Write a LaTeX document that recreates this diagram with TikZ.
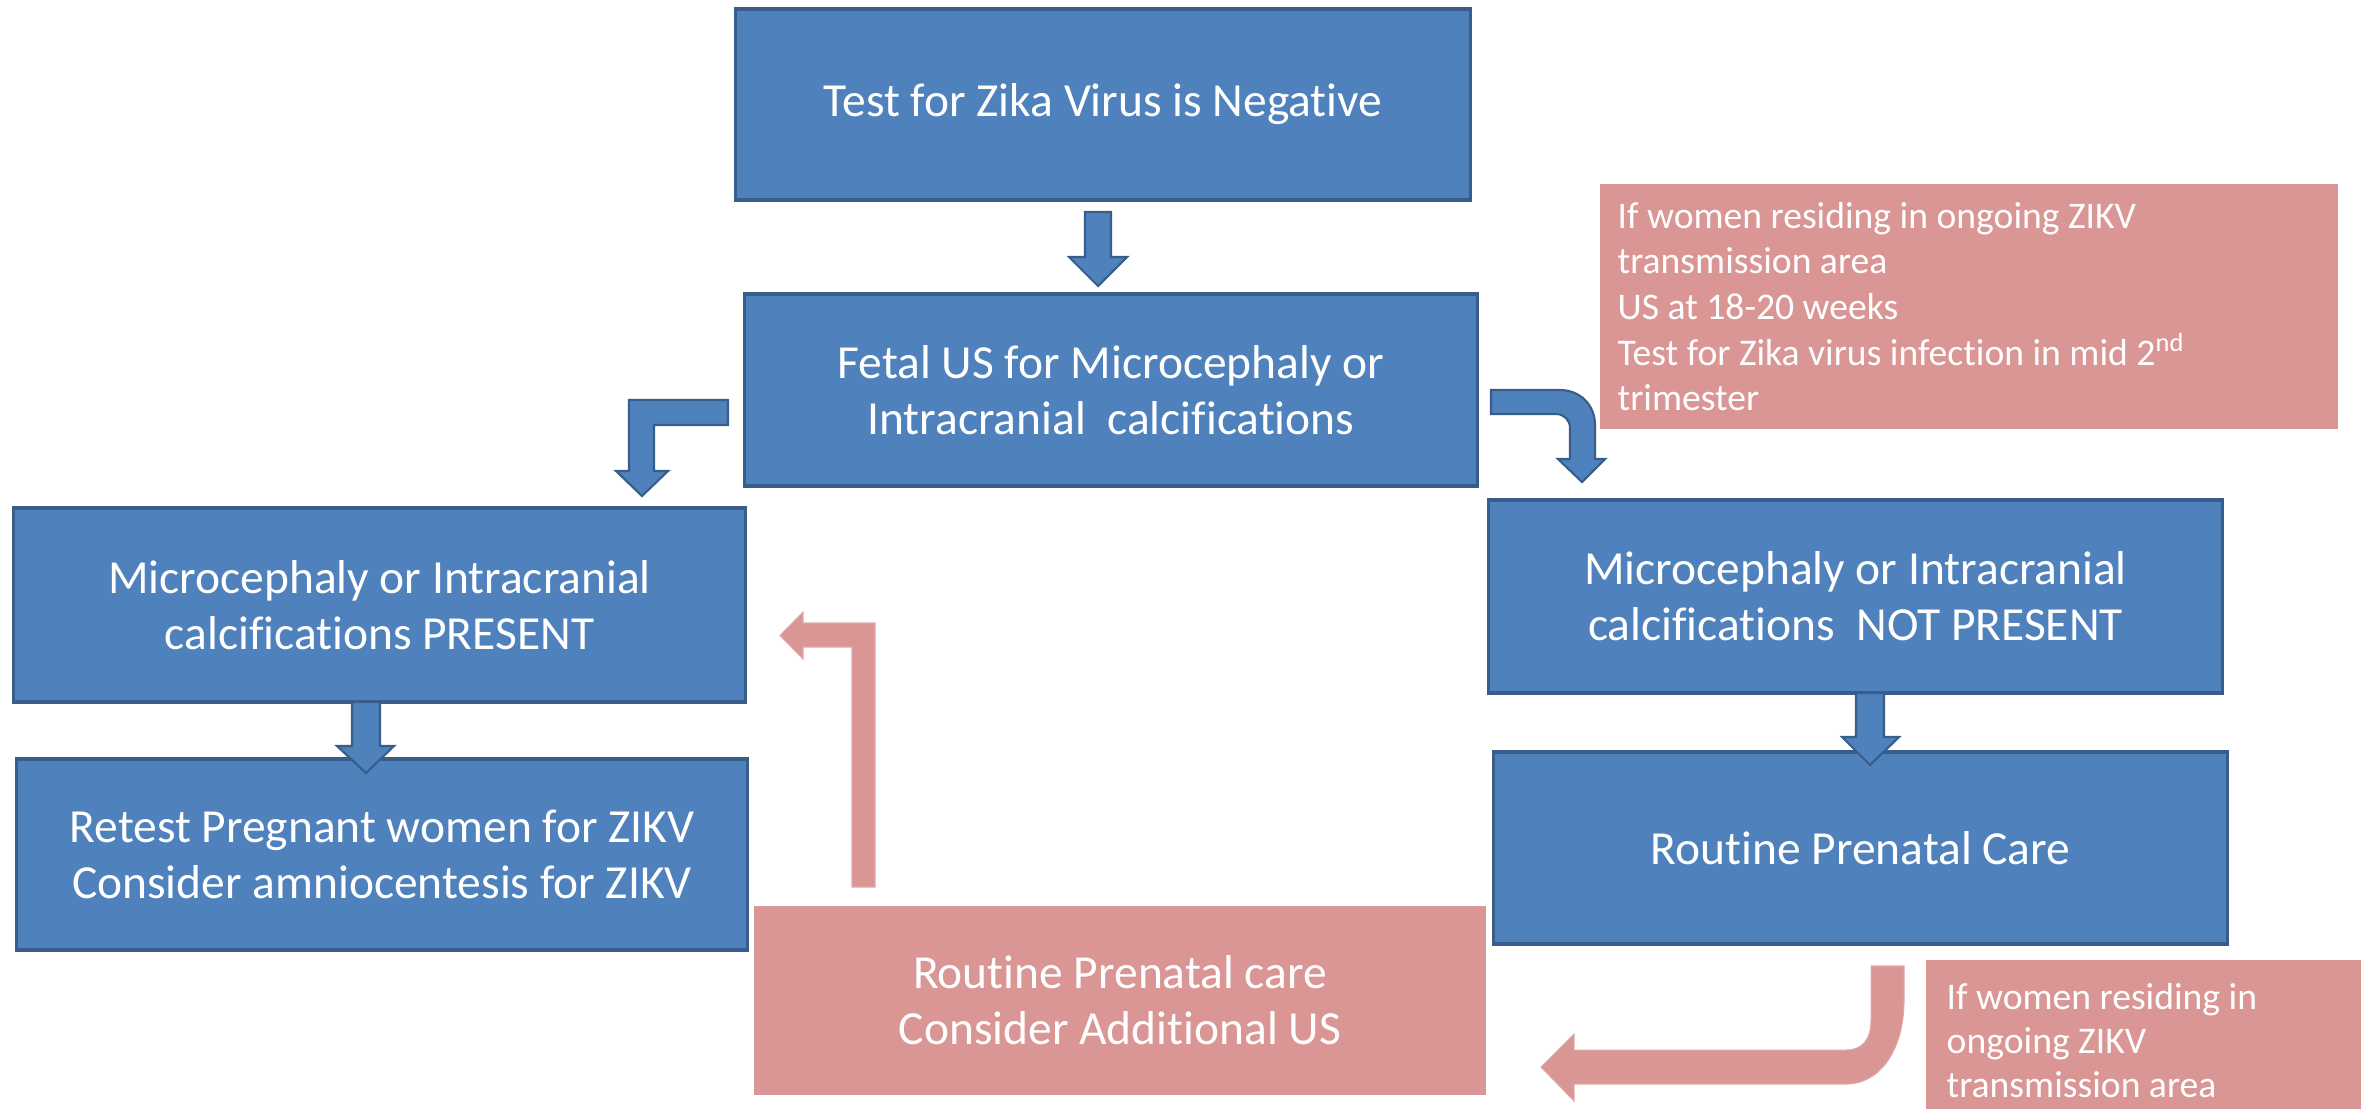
\documentclass[tikz,border=0pt]{standalone}
\usepackage{fontspec}
\setmainfont{Carlito}[Ligatures={NoCommon}]
\definecolor{bluefill}{HTML}{4F81BD}
\definecolor{blueline}{HTML}{385D8A}
\definecolor{pinkfill}{HTML}{D99694}
\definecolor{pinkline}{HTML}{E0A9A8}
\tikzset{
  bluebox/.style={draw=blueline, fill=bluefill, line width=0.9pt, text=white, align=center, inner sep=0pt,
    font=\fontsize{13.5}{15.9}\selectfont},
  pinkbox/.style={fill=pinkfill, draw=none, text=white, align=center, inner sep=0pt,
    font=\fontsize{13.5}{15.9}\selectfont},
  pinktext/.style={text=white, align=left, inner sep=0pt, font=\fontsize{10.7}{13.0}\selectfont},
  bluearrow/.style={draw=blueline, fill=bluefill, line width=0.6pt, line join=miter},
  pinkarrow/.style={draw=pinkline, fill=pinkfill, line width=0.3pt, line join=miter},
}
\begin{document}
\begin{tikzpicture}[x=0.01cm, y=-0.01cm]
\useasboundingbox (0,0) rectangle (2361,1108);
\clip (0,0) rectangle (2361,1108);

% boxes
\node[bluebox, minimum width=7.34cm, minimum height=1.91cm] (top) at (1103,104.5) {Test for Zika Virus is Negative};
\node[bluebox, minimum width=7.32cm, minimum height=1.92cm] (fetal) at (1111,390) {Fetal US for Microcephaly or\\Intracranial\ \ calcifications};
\node[bluebox, minimum width=7.31cm, minimum height=1.94cm] (present) at (379.5,605) {Microcephaly or Intracranial\\calcifications PRESENT};
\node[bluebox, minimum width=7.33cm, minimum height=1.93cm] (notpresent) at (1855.5,596.5) {Microcephaly or Intracranial\\calcifications\ \ NOT PRESENT};
\node[bluebox, minimum width=7.30cm, minimum height=1.91cm] (retest) at (382,854.5) {Retest Pregnant women for ZIKV\\Consider amniocentesis for ZIKV};
\node[bluebox, minimum width=7.33cm, minimum height=1.92cm] (routine) at (1860.5,848) {Routine Prenatal Care};

\node[pinkbox, minimum width=7.38cm, minimum height=2.45cm] (pinkA) at (1969,306.5) {};
\node[pinktext, anchor=west] (pinkAtext) at (1617,306.5) {If women residing in ongoing ZIKV\\transmission area\\US at 18-20 weeks\\Test for Zika virus infection in mid 2\textsuperscript{nd}\\trimester};

\node[pinkbox, minimum width=7.32cm, minimum height=1.89cm] (pinkmid) at (1120,1000.5) {Routine Prenatal care\\Consider Additional US};

\node[pinkbox, minimum width=4.74cm, minimum height=1.90cm] (pinkB) at (2163,1055) {};
\node[pinktext, anchor=west, font=\fontsize{10.7}{12.5}\selectfont] (pinkBtext) at (1946,1041) {If women residing in\\ongoing ZIKV\\transmission area};

% blue block arrows
\draw[bluearrow] (1085,212) -- (1111,212) -- (1111,257) -- (1127,257) -- (1098,286) -- (1069,257) -- (1085,257) -- cycle;
\draw[bluearrow] (728,400) -- (629,400) -- (629,471) -- (616,471) -- (642,496) -- (668,471) -- (654,471) -- (654,425) -- (728,425) -- cycle;
\draw[bluearrow] (1491,390) -- (1560,390) .. controls (1580,390) and (1595,405) .. (1595,425) -- (1595,459) -- (1605,459) -- (1582,482) -- (1558,459) -- (1570,459) -- (1570,428) .. controls (1570,420) and (1564,414) .. (1556,414) -- (1491,414) -- cycle;
\draw[bluearrow] (352,702) -- (380,702) -- (380,746) -- (394,746) -- (366,773) -- (337,746) -- (352,746) -- cycle;
\draw[bluearrow] (1856,693) -- (1884,693) -- (1884,737) -- (1899,737) -- (1870,765) -- (1842,737) -- (1856,737) -- cycle;

% pink block arrows
\draw[pinkarrow] (852,887) -- (875,887) -- (875,623) -- (803,623) -- (803,612) -- (780,635.5) -- (803,659) -- (803,647) -- (852,647) -- cycle;
\draw[pinkarrow] (1871,966) -- (1904,966) -- (1904,1000) .. controls (1904,1050) and (1880,1084) .. (1846,1084) -- (1574,1084) -- (1574,1101) -- (1541,1067) -- (1574,1034) -- (1574,1050) -- (1846,1050) .. controls (1862,1050) and (1871,1040) .. (1871,1020) -- cycle;
\end{tikzpicture}
\end{document}
